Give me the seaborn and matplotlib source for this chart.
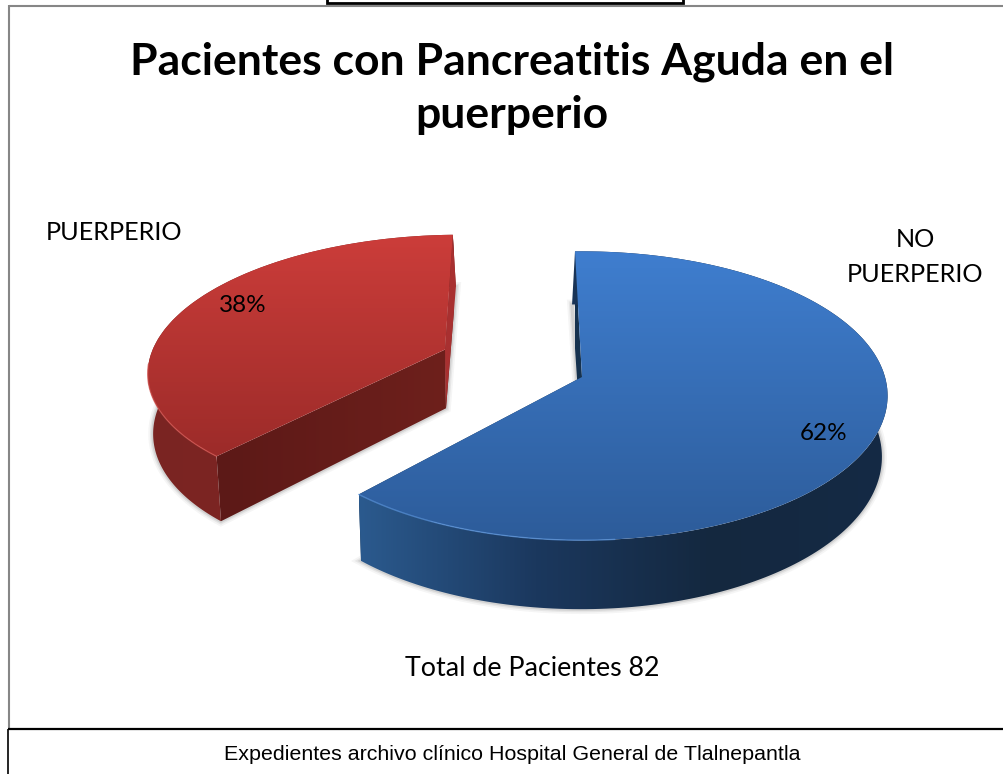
import numpy as np
import matplotlib
matplotlib.use("Agg")
import matplotlib.pyplot as plt
import seaborn as sns
from matplotlib.patches import Polygon, Rectangle
from matplotlib.transforms import Affine2D, Transform

# ---- data ----
categories = ["NO\nPUERPERIO", "PUERPERIO"]
percent = [62, 38]
percent_labels = ["62%", "38%"]
title_text = "Pacientes con Pancreatitis Aguda en el\npuerperio"
total_text = "Total de Pacientes 82"
source_text = "Expedientes archivo clínico Hospital General de Tlalnepantla"

# ---- colours (top-surface, rim and cut-face gradients) ----
blue_top = ["#3f7ecf", "#2d5c9a"]
blue_rim = ["#2b5a8e", "#1b385e", "#14283f", "#152a45"]
blue_cut = ["#16324f", "#16324f"]
blue_edge = "#5a94dc"
red_top = ["#cc3d3a", "#9c2b29"]
red_rim = ["#7a2422", "#832825"]
red_cut = ["#5c1917", "#6e201c"]
red_edge = "#d0504c"

# ---- projection of the pie's plane ----
CX, CY, AX, BY, K, DEPTH = 582.0, 377.0, 303.0, 142.0, 0.13, 60.0
EXPLODE = [0.0, 0.47]
START = 90 + 1.5
# per-slice adjustment about the slice's apex: dx, dy, x scale, y scale
ADJUST = [(0, 0, 1.0, 1.0), (-6, -5, 0.985, 0.95)]


def project(u, v):
    u, v = np.asarray(u, float), np.asarray(v, float)
    w = 1 + K * v
    return CX + AX * u / w, CY - BY * v / w


def shift_low(x, v):
    f = 0.015 + 0.06 * np.maximum(np.asarray(v, float) - 0.5, 0)
    return x + (510 - x) * f


class PieProjection(Transform):
    input_dims = output_dims = 2

    def transform_non_affine(self, values):
        x, y = project(values[:, 0], values[:, 1])
        return np.column_stack([x, y])


sns.set_theme(style="white")
plt.rcParams["font.family"] = ["Lato", "DejaVu Sans"]

fig = plt.figure(figsize=(10.04, 7.74), dpi=100, facecolor="white")
ax = fig.add_axes([0, 0, 1, 1])

wedges, _ = ax.pie(percent, startangle=START, counterclock=False, radius=1,
                   explode=EXPLODE, normalize=True)
ax.set_aspect("auto")
ax.set_xlim(0, 1004)
ax.set_ylim(774, 0)
ax.axis("off")


def gradient(colors, patch, bounds, vertical, zorder):
    x0, x1, y0, y1 = bounds
    cmap = sns.blend_palette(colors, as_cmap=True)
    g = np.linspace(0, 1, 256)
    g = g[:, None] if vertical else g[None, :]
    im = ax.imshow(g, cmap=cmap, extent=(x0, x1, y1, y0), origin="upper",
                   aspect="auto", zorder=zorder, interpolation="bilinear")
    im.set_clip_path(patch)
    ax.set_xlim(0, 1004)
    ax.set_ylim(774, 0)


def poly(xs, ys, zorder):
    p = Polygon(np.column_stack([xs, ys]), closed=True, fc="none", ec="none", zorder=zorder)
    ax.add_patch(p)
    return p


# blue: cut faces lie behind the rim; red: the front cut face lies over it
styles = [(blue_top, blue_rim, blue_cut, blue_edge, 5, -0.2),
          (red_top, red_rim, red_cut, red_edge, 2, 0.2)]
for wedge, (top, rim, cut, edge, base, cut_z), (dx, dy, sx, sy) in zip(wedges, styles, ADJUST):
    c0, c1 = wedge.center
    t = np.radians(np.linspace(wedge.theta1, wedge.theta2, 200))
    u = c0 + np.cos(t)
    v = c1 + np.sin(t)
    px0, py0 = project(c0, c1)
    adj = Affine2D().translate(-px0, -py0).scale(sx, sy).translate(px0 + dx, py0 + dy)

    def adjust(x, y):
        out = adj.transform(np.column_stack([np.atleast_1d(x), np.atleast_1d(y)]))
        return out[:, 0], out[:, 1]

    tx, ty = adjust(*project(u, v))
    lx = shift_low(tx, v)
    ly = ty + DEPTH / (1 + K * v)
    a = adjust(px0, py0)
    ax0, ay0 = a[0][0], a[1][0]
    bx0 = float(shift_low(ax0, c1))
    by0 = ay0 + DEPTH / (1 + K * c1)

    # soft shadow around the lower outline
    for lw, alpha in [(7, 0.05), (4.5, 0.08), (2.5, 0.12)]:
        s = Polygon(np.column_stack([np.r_[lx, bx0], np.r_[ly, by0]]), closed=True,
                    fc="none", ec="#404040", lw=lw, alpha=alpha, zorder=base - 0.5)
        ax.add_patch(s)

    # rim
    rim_p = poly(np.r_[tx, lx[::-1]], np.r_[ty, ly[::-1]], base)
    gradient(rim, rim_p, (min(lx.min(), tx.min()), max(lx.max(), tx.max()), 0, 774), False, base)

    # cut faces
    for i in (0, -1):
        face = poly([ax0, tx[i], lx[i], bx0], [ay0, ty[i], ly[i], by0], base + cut_z)
        gradient(cut, face, (min(tx[i], ax0), max(tx[i], ax0) + 1, 0, 774), False, base + cut_z)
        # lighter inner wall on the far side of the red slice
        if base == 2 and v[i] > 0.9:
            ax.add_patch(Polygon([[ax0, ay0], [tx[i], ty[i]], [lx[i], ly[i]], [bx0, by0]],
                                 closed=True, fc="#a83030", ec="none", zorder=base + 0.3))

    # top surface: the pie wedge itself, projected
    wedge.set_transform(PieProjection() + adj + ax.transData)
    wedge.set_facecolor("none")
    wedge.set_edgecolor("none")
    wedge.set_zorder(base + 0.4)
    gradient(top, wedge, (tx.min() - 5, tx.max() + 5, min(ty.min(), ay0), max(ty.max(), ay0)),
             True, base + 0.4)

    # highlight along the front-left edge of the top surface
    front = (np.sin(t) < -0.1) & (np.cos(t) < 0.1)
    ax.plot(tx[front], ty[front], color=edge, lw=1, alpha=0.7, zorder=base + 0.5,
            solid_capstyle="round")

# ---- page furniture ----
ax.plot([9, 9], [5, 729], color="#868686", lw=1.5, zorder=1, solid_capstyle="butt")
ax.plot([9, 1004], [5.5, 5.5], color="#868686", lw=1.5, zorder=1, solid_capstyle="butt")
ax.plot([8, 1004], [729, 729], color="black", lw=1.6, zorder=10, solid_capstyle="butt")
ax.plot([8, 8], [729, 774], color="black", lw=1.2, zorder=10, solid_capstyle="butt")
ax.add_patch(Rectangle((327, -5), 356, 8, fc="white", ec="black", lw=2, zorder=10))

# ---- text ----
ax.text(512, 88, title_text, ha="center", va="center", fontsize=32, fontweight="bold",
        color="black", linespacing=1.38, zorder=12)
ax.text(114, 232, categories[1], ha="center", va="center", fontsize=18.2, color="black", zorder=12)
ax.text(915, 257, categories[0], ha="center", va="center", fontsize=18.2, color="black",
        linespacing=1.63, zorder=12)
ax.text(243, 305, percent_labels[1], ha="center", va="center", fontsize=17.5, color="black", zorder=12)
ax.text(824, 433, percent_labels[0], ha="center", va="center", fontsize=17.5, color="black", zorder=12)
ax.text(532, 668, total_text, ha="center", va="center", fontsize=19.3, color="black", zorder=12)
ax.text(512, 754, source_text, ha="center", va="center", fontsize=15.4, color="black",
        family="Liberation Sans", zorder=12)

fig.savefig("out.png", dpi=100, facecolor="white")
